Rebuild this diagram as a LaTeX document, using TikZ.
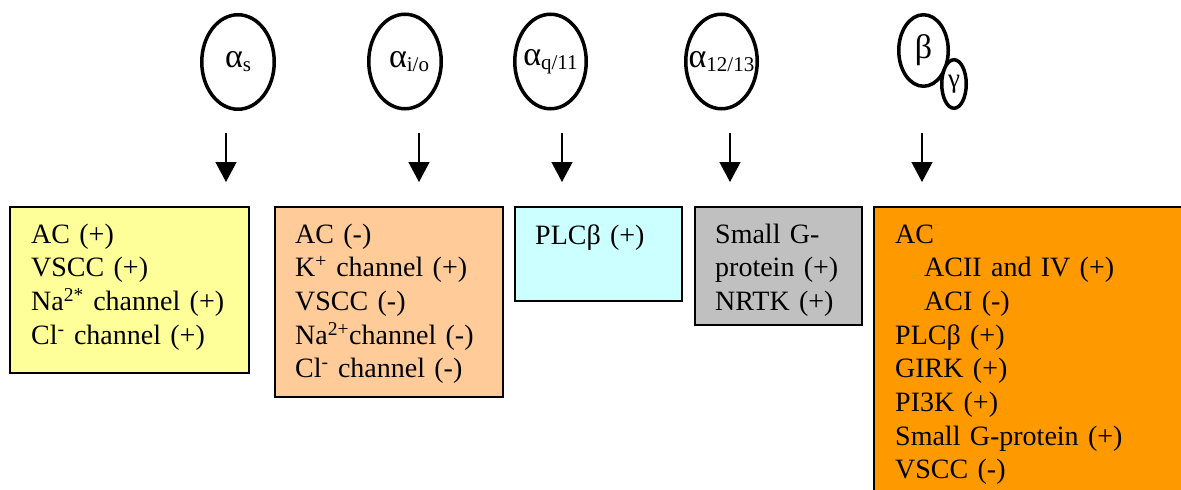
\documentclass[tikz,border=0pt]{standalone}
\usepackage{fontspec}
\setmainfont{Liberation Serif}
\usetikzlibrary{arrows.meta,shapes.geometric}
\definecolor{cYellow}{HTML}{FFFF99}
\definecolor{cPeach}{HTML}{FFCC99}
\definecolor{cCyan}{HTML}{CCFFFF}
\definecolor{cGray}{HTML}{C0C0C0}
\definecolor{cOrange}{HTML}{FF9900}
\newcommand{\gpsub}[1]{{\fontsize{21}{22}\selectfont\raisebox{-4pt}{#1}}}
\newcommand{\gplabel}[1]{\makebox[0pt][c]{#1}}
\begin{document}
\begin{tikzpicture}[x=1pt,y=-1pt,
  gprot/.style={ellipse, draw, line width=3.5pt, fill=white, inner sep=0pt, font=\fontsize{34}{36}\selectfont},
  effbox/.style={rectangle, draw, line width=2pt, anchor=north west, inner sep=0pt},
  efftext/.style={anchor=base west, inner sep=0pt, align=left, text width=320pt, font=\fontsize{28}{33.7}\selectfont},
  sig/.style={line width=1.5pt, -{Triangle[width=21pt,length=20pt]}}
]
\clip (0,0) rectangle (1181,490);
\fill[white] (0,0) rectangle (1181,490);

% G-protein subunits
\node[gprot, minimum width=72.5pt, minimum height=94.5pt] (as) at (238,62) {\gplabel{α\gpsub{s}}};
\node[gprot, minimum width=72.5pt, minimum height=94.5pt] (aio) at (405,61.5) {\gplabel{\hspace*{8pt}α\gpsub{i/o}}};
\node[gprot, minimum width=71.5pt, minimum height=94.5pt] (aq) at (550.5,61.5) {\gplabel{α\gpsub{q/11}}};
\node[gprot, minimum width=71.5pt, minimum height=94.5pt] (a12) at (721.5,61.5) {\gplabel{α\gpsub{12/13}}};
\node[gprot, minimum width=49.5pt, minimum height=71.5pt] (beta) at (923.5,50.5) {\gplabel{β}};
\node[gprot, minimum width=24.5pt, minimum height=48.5pt, font=\fontsize{27}{29}\selectfont] (gamma) at (954,84) {\gplabel{γ}};

% arrows
\coordinate (s1) at (226,133); \coordinate (e1) at (226,182);
\coordinate (s2) at (419,133); \coordinate (e2) at (419,182);
\coordinate (s3) at (562,133); \coordinate (e3) at (562,182);
\coordinate (s4) at (730,133); \coordinate (e4) at (730,182);
\coordinate (s5) at (922,133); \coordinate (e5) at (922,182);
\draw[sig] (s1) -- (e1);
\draw[sig] (s2) -- (e2);
\draw[sig] (s3) -- (e3);
\draw[sig] (s4) -- (e4);
\draw[sig] (s5) -- (e5);

% effector boxes
\node[effbox, fill=cYellow, minimum width=239pt, minimum height=166pt] (bs) at (9,206) {};
\node[effbox, fill=cPeach, minimum width=228pt, minimum height=190pt] (bio) at (274,206) {};
\node[effbox, fill=cCyan, minimum width=167pt, minimum height=94pt] (bq) at (514,206) {};
\node[effbox, fill=cGray, minimum width=167pt, minimum height=118pt] (b12) at (694,206) {};
\node[effbox, fill=cOrange, minimum width=330pt, minimum height=320pt] (bbg) at (873,206) {};

% texts
\node[efftext] (ts) at (31,243) {AC (+)\\VSCC (+)\\Na\textsuperscript{2*} channel (+)\\Cl\textsuperscript{-} channel (+)};
\node[efftext] (tio) at (295,243) {AC (-)\\K\textsuperscript{+} channel (+)\\VSCC (-)\\Na\textsuperscript{2+}channel (-)\\Cl\textsuperscript{-} channel (-)};
\node[efftext] (tq) at (535,244) {PLCβ (+)};
\node[efftext] (t12) at (715,243) {Small G-\\protein (+)\\NRTK (+)};
\node[efftext] (tbg) at (895,243) {AC\\\hspace*{29pt}ACII and IV (+)\\\hspace*{29pt}ACI (-)\\PLCβ (+)\\GIRK (+)\\PI3K (+)\\Small G-protein (+)\\VSCC (-)};
\end{tikzpicture}
\end{document}
